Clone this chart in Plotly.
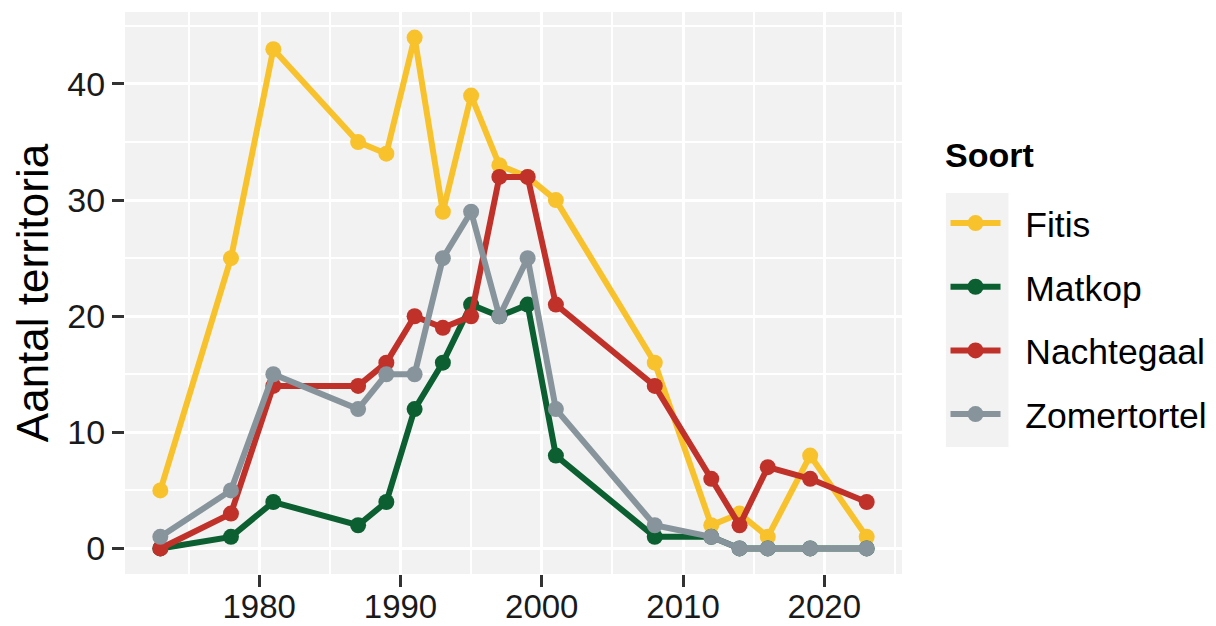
import plotly.graph_objects as go

years = [1973, 1978, 1981, 1987, 1989, 1991, 1993, 1995, 1997, 1999, 2001, 2008, 2012, 2014, 2016, 2019, 2023]
fitis = [5, 25, 43, 35, 34, 44, 29, 39, 33, 32, 30, 16, 2, 3, 1, 8, 1]
matkop = [0, 1, 4, 2, 4, 12, 16, 21, 20, 21, 8, 1, 1, 0, 0, 0, 0]
nachtegaal = [0, 3, 14, 14, 16, 20, 19, 20, 32, 32, 21, 14, 6, 2, 7, 6, 4]
zomertortel = [1, 5, 15, 12, 15, 15, 25, 29, 20, 25, 12, 2, 1, 0, 0, 0, 0]

series = [
    ("Fitis", fitis, "#F8C22D"),
    ("Matkop", matkop, "#0B5F30"),
    ("Nachtegaal", nachtegaal, "#C0312A"),
    ("Zomertortel", zomertortel, "#87949C"),
]

fig = go.Figure()
for name, vals, col in series:
    fig.add_trace(go.Scatter(
        x=years, y=vals, name="\u00a0\u00a0" + name, legendgroup=name,
        mode="lines+markers",
        line=dict(color=col, width=6),
        marker=dict(color=col, size=16),
        hovertemplate=name + ": %{y}<extra></extra>",
    ))

fig.update_layout(
    template="none",
    width=1208, height=618,
    margin=dict(l=117, r=312, t=4, b=52),
    paper_bgcolor="white",
    plot_bgcolor="#F2F2F2",
    font=dict(family="Liberation Sans, Arial, sans-serif", color="black"),
    showlegend=True,
    legend=dict(
        font=dict(size=35.5),
        x=1.056, xanchor="left", y=0.677, yanchor="top",
        tracegroupgap=14.5, itemwidth=50,
        bgcolor="rgba(0,0,0,0)",
    ),
    xaxis=dict(
        range=[1970.5, 2025.5],
        tickvals=[1980, 1990, 2000, 2010, 2020],
        showgrid=True, gridcolor="white", gridwidth=3,
        minor=dict(tickvals=[1975, 1985, 1995, 2005, 2015, 2025], showgrid=True, gridcolor="white", gridwidth=1.5),
        ticks="outside", ticklen=12, tickwidth=3, tickcolor="#333333",
        tickfont=dict(size=33, color="#1a1a1a"),
        ticklabelstandoff=-9,
        zeroline=False, showline=False, automargin=False,
    ),
    yaxis=dict(
        range=[-2.2, 46.2],
        tickvals=[0, 10, 20, 30, 40],
        showgrid=True, gridcolor="white", gridwidth=3,
        minor=dict(tickvals=[5, 15, 25, 35, 45], showgrid=True, gridcolor="white", gridwidth=1.5),
        ticks="outside", ticklen=12, tickwidth=3, tickcolor="#333333",
        tickfont=dict(size=34, color="#1a1a1a"),
        title=dict(text="Aantal territoria", font=dict(size=44), standoff=17),
        zeroline=False, showline=False, automargin=False,
    ),
    shapes=[dict(
        type="rect", xref="paper", yref="paper",
        x0=1.0565, x1=1.137, y0=0.226, y1=0.678,
        fillcolor="#F2F2F2", line=dict(width=0), layer="below",
    )],
    annotations=[dict(
        text="<b>Soort</b>", xref="paper", yref="paper",
        x=1.0525, y=0.745, xanchor="left", yanchor="middle",
        showarrow=False, font=dict(size=34, color="black"),
    )],
)

fig.write_html("out.html")
